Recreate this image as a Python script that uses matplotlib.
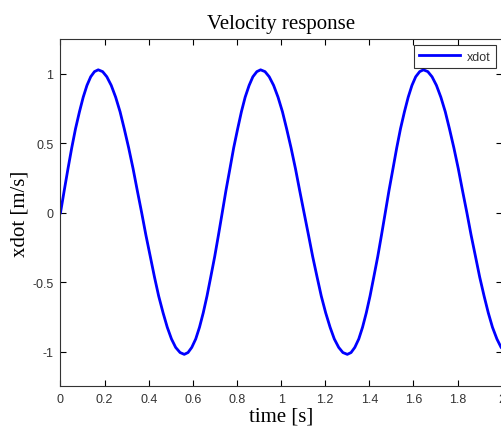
import matplotlib
matplotlib.use("Agg")
import matplotlib.pyplot as plt

# time samples [s] and measured velocity [m/s]
time = [
    0.000, 0.017, 0.034, 0.051, 0.068, 0.086, 0.103, 0.120, 0.137, 0.154, 0.171,
    0.191, 0.210, 0.230, 0.250, 0.270, 0.289, 0.309, 0.329, 0.348, 0.368,
    0.387, 0.407, 0.426, 0.445, 0.465, 0.484, 0.503, 0.522, 0.542, 0.561,
    0.578, 0.595, 0.613, 0.630, 0.647, 0.664, 0.681, 0.699, 0.716, 0.733,
    0.750, 0.768, 0.785, 0.803, 0.820, 0.837, 0.855, 0.872, 0.890, 0.907,
    0.927, 0.946, 0.966, 0.986, 1.006, 1.025, 1.045, 1.065, 1.084, 1.104,
    1.124, 1.143, 1.163, 1.182, 1.202, 1.222, 1.241, 1.261, 1.280, 1.300,
    1.317, 1.334, 1.352, 1.369, 1.386, 1.403, 1.420, 1.438, 1.455, 1.472,
    1.489, 1.507, 1.524, 1.541, 1.559, 1.576, 1.593, 1.610, 1.628, 1.645,
    1.665, 1.684, 1.704, 1.724, 1.744, 1.763, 1.783, 1.803, 1.822, 1.842,
    1.861, 1.881, 1.900, 1.920, 1.939, 1.958, 1.978, 1.997, 2.000,
]
xdot = [
    0.000, 0.161, 0.318, 0.468, 0.605, 0.728, 0.833, 0.918, 0.980, 1.017, 1.030,
    1.017, 0.980, 0.918, 0.833, 0.728, 0.605, 0.468, 0.318, 0.161, 0.000,
    -0.160, -0.315, -0.463, -0.600, -0.721, -0.825, -0.909, -0.970, -1.007, -1.020,
    -1.007, -0.970, -0.909, -0.825, -0.721, -0.600, -0.463, -0.315, -0.160, 0.000,
    0.161, 0.318, 0.468, 0.605, 0.728, 0.833, 0.918, 0.980, 1.017, 1.030,
    1.017, 0.980, 0.918, 0.833, 0.728, 0.605, 0.468, 0.318, 0.161, 0.000,
    -0.160, -0.315, -0.463, -0.600, -0.721, -0.825, -0.909, -0.970, -1.007, -1.020,
    -1.007, -0.970, -0.909, -0.825, -0.721, -0.600, -0.463, -0.315, -0.160, 0.000,
    0.161, 0.318, 0.468, 0.605, 0.728, 0.833, 0.918, 0.980, 1.017, 1.030,
    1.017, 0.980, 0.918, 0.833, 0.728, 0.605, 0.468, 0.318, 0.161, 0.000,
    -0.160, -0.315, -0.463, -0.600, -0.721, -0.825, -0.909, -0.970, -0.975,
]
xticks = [0, 0.2, 0.4, 0.6, 0.8, 1, 1.2, 1.4, 1.6, 1.8, 2]
yticks = [-1, -0.5, 0, 0.5, 1]

fig = plt.figure(figsize=(5.02, 4.35), dpi=100)
ax = fig.add_axes([0.1205, 0.1097, 0.879, 0.7977])

ax.plot(time, xdot, color="#0000ff", linewidth=2.0, label="xdot",
        solid_joinstyle="round")

ax.set_xlim(0, 2)
ax.set_ylim(-1.25, 1.25)
ax.set_xticks(xticks)
ax.set_xticklabels([f"{t:g}" for t in xticks])
ax.set_yticks(yticks)
ax.set_yticklabels([f"{v:g}" for v in yticks])

ax.tick_params(direction="in", length=4, width=0.8, top=True, right=True,
               labelsize=9, labelcolor="#333333", pad=5)
for lbl in ax.get_xticklabels() + ax.get_yticklabels():
    lbl.set_family("Liberation Sans")
for sp in ax.spines.values():
    sp.set_linewidth(0.8)
    sp.set_color("#333333")

serif = "Liberation Serif"
ax.set_title("Velocity response", family=serif, fontsize=15, pad=8)
ax.set_xlabel("time [s]", family=serif, fontsize=15, labelpad=1)
ax.set_ylabel("xdot [m/s]", family=serif, fontsize=15, labelpad=2)

leg = ax.legend(loc="upper right", prop={"family": "Liberation Sans", "size": 9},
                frameon=True, fancybox=False, edgecolor="black",
                borderaxespad=0.45, handlelength=3.3, borderpad=0.45,
                handletextpad=0.5)
leg.get_frame().set_linewidth(0.8)
for txt in leg.get_texts():
    txt.set_color("#333333")

fig.savefig("out.png", dpi=100)
